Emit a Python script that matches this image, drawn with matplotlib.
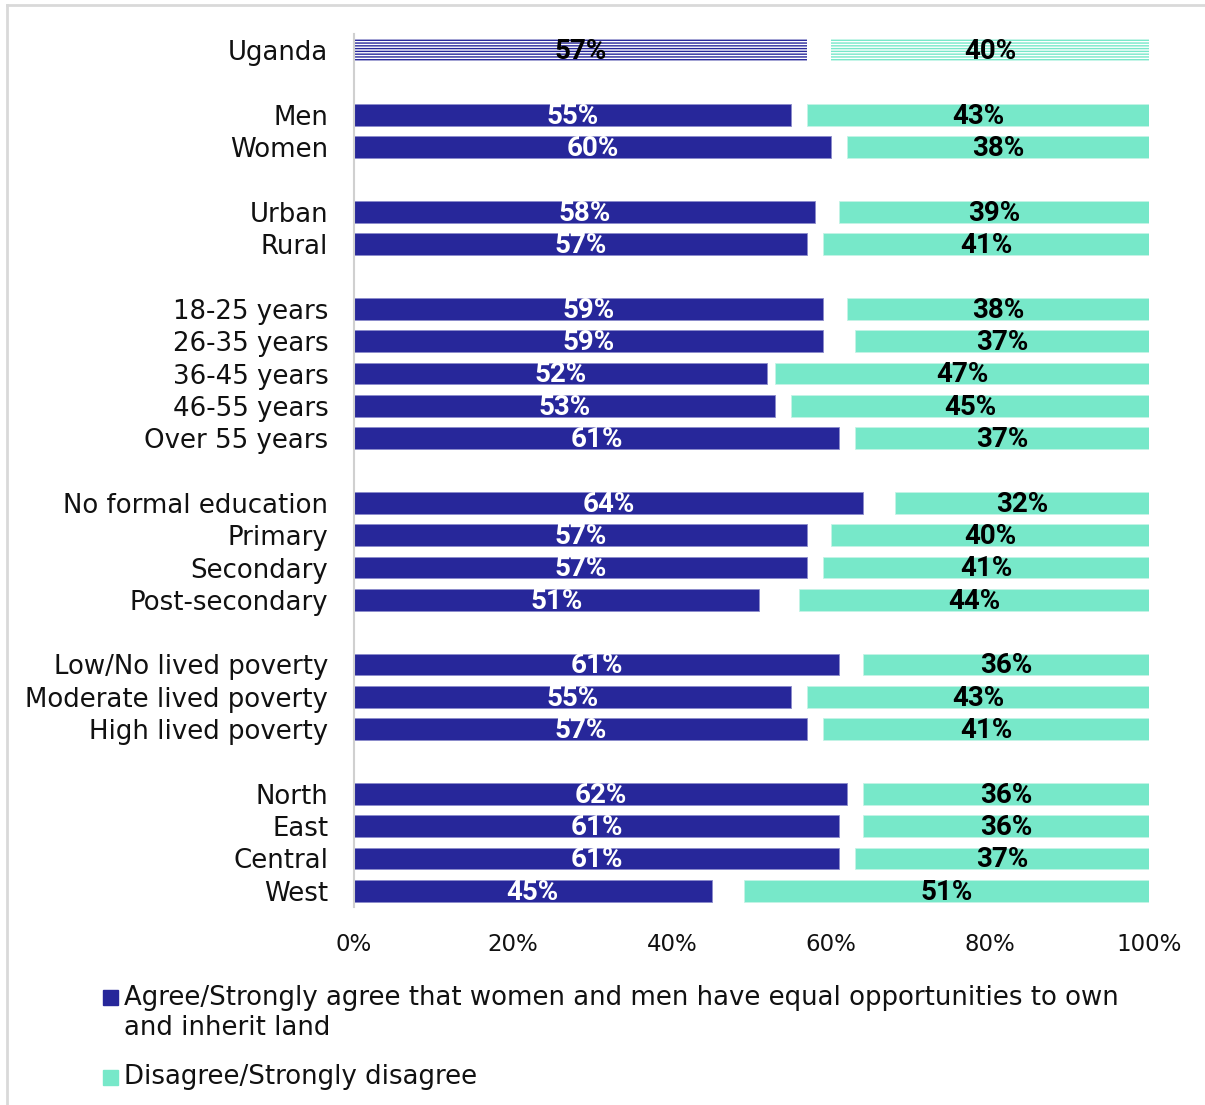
import matplotlib.pyplot as plt
from matplotlib.patches import Rectangle

# survey breakdown: share agreeing / disagreeing, in percent
categories = ["Uganda",
              "Men", "Women",
              "Urban", "Rural",
              "18-25 years", "26-35 years", "36-45 years", "46-55 years", "Over 55 years",
              "No formal education", "Primary", "Secondary", "Post-secondary",
              "Low/No lived poverty", "Moderate lived poverty", "High lived poverty",
              "North", "East", "Central", "West"]
agree = [57, 55, 60, 58, 57, 59, 59, 52, 53, 61, 64, 57, 57, 51, 61, 55, 57, 62, 61, 61, 45]
disagree = [40, 43, 38, 39, 41, 38, 37, 47, 45, 37, 32, 40, 41, 44, 36, 43, 41, 36, 36, 37, 51]
group_sizes = [1, 2, 2, 5, 4, 3, 4]

legend_labels = ["Agree/Strongly agree that women and men have equal opportunities to own\nand inherit land",
                 "Disagree/Strongly disagree"]
xticks = [0, 20, 40, 60, 80, 100]

BLUE = "#27279A"
TEAL = "#77E8C9"

# row positions with an empty row between groups
ypos = []
row = 0
for size in group_sizes:
    for _ in range(size):
        ypos.append(row)
        row += 1
    row += 1

plt.rcParams['hatch.linewidth'] = 1.0

fig = plt.figure(figsize=(12.05, 11.05), dpi=100)
ax = fig.add_axes([354 / 1205, 1 - 907 / 1105, 795 / 1205, 873 / 1105])

h = 0.68
label_font = dict(family=['Roboto', 'DejaVu Sans'], fontweight='bold', fontsize=20)
for i, (y, a, d) in enumerate(zip(ypos, agree, disagree)):
    left_d = 100 - d
    if i == 0:
        ax.barh(y, a, height=h, color='white', edgecolor=BLUE, hatch='------', linewidth=0)
        ax.barh(y, d, left=left_d, height=h, color='white', edgecolor=TEAL, hatch='------', linewidth=0)
        acol = 'black'
    else:
        ax.barh(y, a, height=h, color=BLUE, edgecolor='#8C8CCB', linewidth=0.6)
        ax.barh(y, d, left=left_d, height=h, color=TEAL, edgecolor='#C4F4E6', linewidth=0.6)
        acol = 'white'
    ax.text(a / 2, y + 0.04, f"{a}%", ha='center', va='center', color=acol, **label_font)
    ax.text(left_d + d / 2, y + 0.04, f"{d}%", ha='center', va='center', color='black', **label_font)

ax.set_xlim(0, 100)
ax.set_ylim(26.5, -0.5)
ax.set_yticks(ypos)
ax.set_yticklabels(categories, fontsize=18.7, color='#111111')
ax.set_xticks(xticks)
ax.set_xticklabels([f"{t}%" for t in xticks], fontsize=16.5, color='#111111')
ax.tick_params(axis='both', length=0)
ax.tick_params(axis='y', pad=18.5)
ax.tick_params(axis='x', pad=19)
for s in ['top', 'right', 'bottom']:
    ax.spines[s].set_visible(False)
ax.spines['left'].set_color('#D0D0D0')
ax.spines['left'].set_linewidth(1.5)

# legend drawn by hand below the axis
fig.patches.append(Rectangle((103 / 1205, 1 - 1005 / 1105), 15 / 1205, 15 / 1105,
                             transform=fig.transFigure, color=BLUE))
fig.text(124 / 1205, 1 - 985 / 1105, legend_labels[0], fontsize=18.7, va='top',
         color='#111111', linespacing=1.2)
fig.patches.append(Rectangle((103 / 1205, 1 - 1085 / 1105), 15 / 1205, 15 / 1105,
                             transform=fig.transFigure, color=TEAL))
fig.text(124 / 1205, 1 - 1077 / 1105, legend_labels[1], fontsize=18.7, va='center',
         color='#111111')

# outer frame, open on the right and bottom
frame_x = 7 / 1205
frame_y = 1 - 5 / 1105
fig.add_artist(plt.Line2D([frame_x, frame_x], [0, frame_y], transform=fig.transFigure,
                          color='#D9D9D9', linewidth=2))
fig.add_artist(plt.Line2D([frame_x, 1], [frame_y, frame_y], transform=fig.transFigure,
                          color='#D9D9D9', linewidth=2))

fig.savefig("out.png", dpi=100)
